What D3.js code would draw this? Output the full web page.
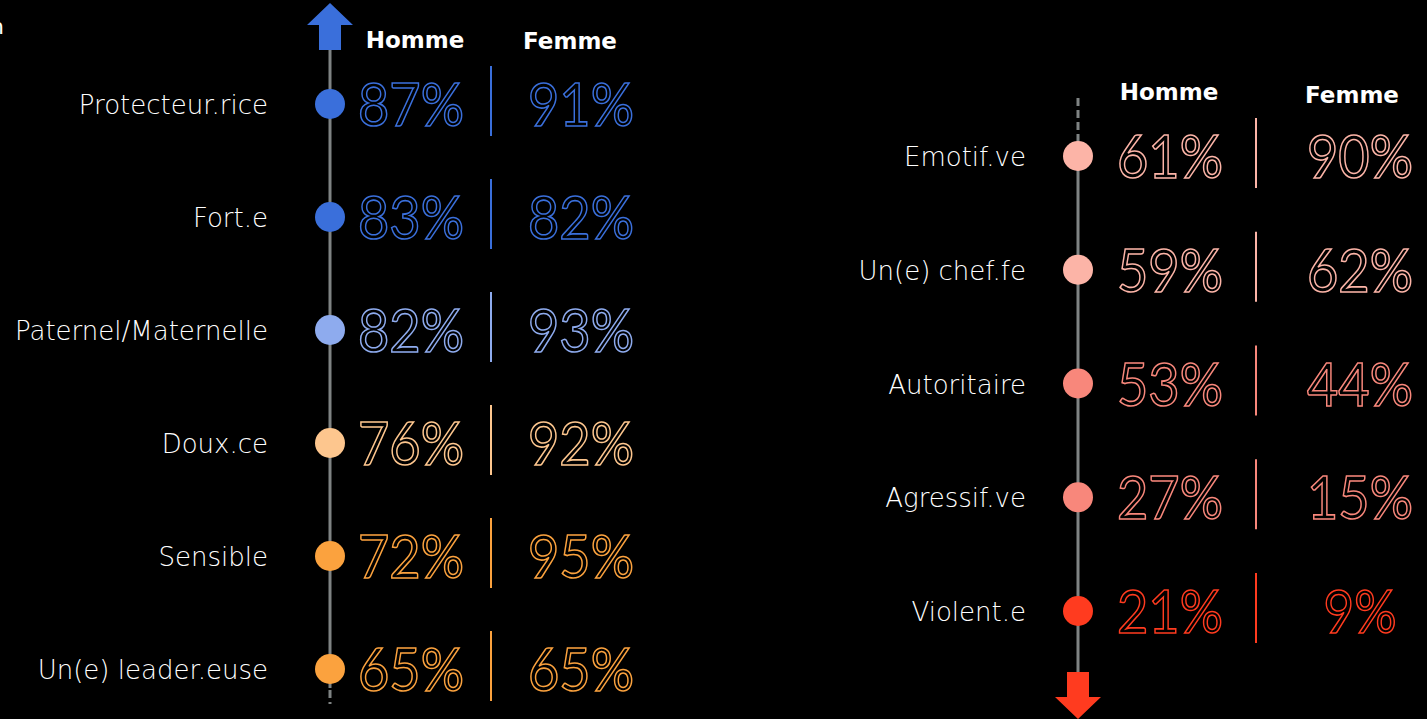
<!DOCTYPE html>
<html>
<head>
<meta charset="utf-8">
<script src="https://cdn.jsdelivr.net/npm/d3@7"></script>
<style>
  html, body { margin: 0; padding: 0; background: #000; }
  svg { display: block; }
</style>
</head>
<body>
<div id="chart"></div>
<script>
var width = 1427;
var height = 719;

// left panel: positive traits
var leftLabels = ["Protecteur.rice", "Fort.e", "Paternel/Maternelle", "Doux.ce", "Sensible", "Un(e) leader.euse"];
var leftHomme = [87, 83, 82, 76, 72, 65];
var leftFemme = [91, 82, 93, 92, 95, 65];
var leftColors = ["#3a6fdb", "#3a6fdb", "#8eabee", "#fdc68e", "#fba23e", "#fba23e"];

// right panel: negative traits
var rightLabels = ["Emotif.ve", "Un(e) chef.fe", "Autoritaire", "Agressif.ve", "Violent.e"];
var rightHomme = [61, 59, 53, 27, 21];
var rightFemme = [90, 62, 44, 15, 9];
var rightColors = ["#fcb4a7", "#fcb4a7", "#f8877b", "#f8877b", "#ff3b1f"];

var columns = ["Homme", "Femme"];

var svg = d3.select("#chart")
  .append("svg")
  .attr("width", width)
  .attr("height", height)
  .style("background", "#000");

// cut-off text at the top left (as in the original slide)
svg.append("text")
  .attr("x", 4).attr("y", 34)
  .attr("text-anchor", "end")
  .attr("fill", "#fff")
  .style("font-family", "DejaVu Sans")
  .style("font-size", "22px")
  .text("n");

function panel(cfg) {
  var y = d3.scalePoint()
    .domain(cfg.labels)
    .range(cfg.yRange);

  var x = d3.scaleOrdinal()
    .domain(columns)
    .range(cfg.colX);

  var g = svg.append("g");

  // axis line
  g.append("line")
    .attr("x1", cfg.axisX).attr("x2", cfg.axisX)
    .attr("y1", cfg.solid[0]).attr("y2", cfg.solid[1])
    .attr("stroke", "#7f8383").attr("stroke-width", 3);
  g.append("line")
    .attr("x1", cfg.axisX).attr("x2", cfg.axisX)
    .attr("y1", cfg.dashed[0]).attr("y2", cfg.dashed[1])
    .attr("stroke", "#7f8383").attr("stroke-width", 3)
    .attr("stroke-dasharray", "8,4");

  // arrow
  var a = cfg.arrow, dir = a.dir, ax = cfg.axisX;
  var pts = [
    [ax, a.tip],
    [ax + 23, a.tip + dir * 22],
    [ax + 11, a.tip + dir * 22],
    [ax + 11, a.tip + dir * 47],
    [ax - 11, a.tip + dir * 47],
    [ax - 11, a.tip + dir * 22],
    [ax - 23, a.tip + dir * 22]
  ];
  g.append("polygon")
    .attr("points", pts.map(function(p) { return p.join(","); }).join(" "))
    .attr("fill", a.color);

  // column headers
  g.selectAll("text.head")
    .data(columns)
    .enter()
    .append("text")
      .attr("class", "head")
      .attr("x", function(d, i) { return cfg.headX[i]; })
      .attr("y", function(d, i) { return cfg.headY[i]; })
      .attr("text-anchor", "middle")
      .attr("fill", "#fff")
      .style("font-family", "DejaVu Sans")
      .style("font-weight", "bold")
      .style("font-size", "23px")
      .text(function(d) { return d; });

  var rows = cfg.labels.map(function(l, i) {
    return {label: l, h: cfg.homme[i], f: cfg.femme[i], color: cfg.colors[i]};
  });

  // labels
  g.selectAll("text.lab")
    .data(rows)
    .enter()
    .append("text")
      .attr("class", "lab")
      .attr("x", cfg.labelX)
      .attr("y", function(d) { return y(d.label) + 10; })
      .attr("text-anchor", "end")
      .attr("fill", "#fff")
      .style("font-family", "DejaVu Sans")
      .style("font-weight", "300")
      .style("font-size", "26px")
      .text(function(d) { return d.label; });

  // dots
  g.selectAll("circle")
    .data(rows)
    .enter()
    .append("circle")
      .attr("cx", cfg.axisX)
      .attr("cy", function(d) { return y(d.label); })
      .attr("r", 15)
      .attr("fill", function(d) { return d.color; });

  // separators
  g.selectAll("line.sep")
    .data(rows)
    .enter()
    .append("line")
      .attr("class", "sep")
      .attr("x1", cfg.sepX).attr("x2", cfg.sepX)
      .attr("y1", function(d) { return y(d.label) - 38; })
      .attr("y2", function(d) { return y(d.label) + 32; })
      .attr("stroke", function(d) { return d.color; })
      .attr("stroke-width", 2);

  // outlined percentages
  columns.forEach(function(col) {
    g.selectAll("text.pct-" + col)
      .data(rows)
      .enter()
      .append("text")
        .attr("class", "pct-" + col)
        .attr("x", x(col))
        .attr("y", function(d) { return y(d.label) + 22; })
        .attr("text-anchor", "middle")
        .attr("fill", "none")
        .attr("stroke", function(d) { return d.color; })
        .attr("stroke-width", 1.6)
        .attr("textLength", function(d) {
          var v = col === "Homme" ? d.h : d.f;
          return String(v).length * 33 + 40;
        })
        .attr("lengthAdjust", "spacingAndGlyphs")
        .style("font-family", "Lato")
        .style("font-size", "60px")
        .text(function(d) { return (col === "Homme" ? d.h : d.f) + "%"; });
  });
}

panel({
  labels: leftLabels, homme: leftHomme, femme: leftFemme, colors: leftColors,
  yRange: [104, 669],
  axisX: 330, labelX: 268, colX: [411, 581], headX: [415, 570], sepX: 491, headY: [48, 49],
  solid: [40, 688], dashed: [690, 704],
  arrow: {tip: 3, dir: 1, color: "#3a6fdb"}
});

panel({
  labels: rightLabels, homme: rightHomme, femme: rightFemme, colors: rightColors,
  yRange: [156, 611],
  axisX: 1078, labelX: 1026, colX: [1170, 1360], headX: [1169, 1352], sepX: 1256, headY: [100, 103],
  solid: [137, 680], dashed: [98, 137],
  arrow: {tip: 719, dir: -1, color: "#ff3b1f"}
});
</script>
</body>
</html>
